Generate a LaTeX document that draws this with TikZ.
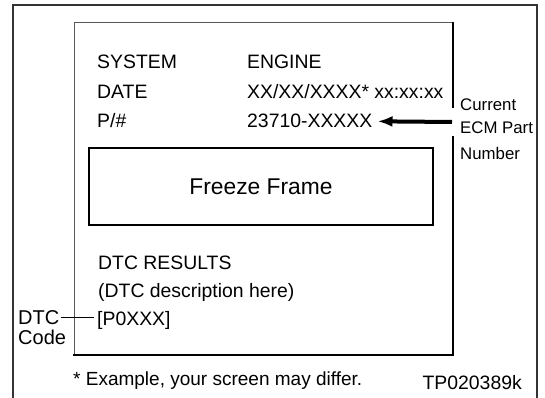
\documentclass[tikz,border=0pt]{standalone}
\usepackage{fontspec}
\setmainfont{Liberation Sans}
\usetikzlibrary{arrows.meta}
\begin{document}
\begin{tikzpicture}[x=1pt,y=-1pt,
  txt/.style={inner sep=0pt,anchor=base west,font=\fontsize{19.4}{22}\selectfont},
  side/.style={inner sep=0pt,anchor=base west,font=\fontsize{16.8}{19}\selectfont},
  dlab/.style={inner sep=0pt,anchor=base west,font=\fontsize{20}{22}\selectfont},
  frame/.style={line width=1.3pt,draw=black!80},
  thin/.style={line width=0.8pt,draw=black!65},
  thick/.style={line width=1.8pt,draw=black}]
\useasboundingbox (0,0) rectangle (545,398);
% outer frame
\draw[frame] (13,398) |- (537,5) -- (537,398);
% screen
\draw[thin] (74,355) |- (453,22);
\draw[thick] (453,22) -- (453,108);
\draw[thick] (453,136) -- (453,355) -- (73,355);
% rows
\node[txt] (sys) at (97,69) {SYSTEM};
\node[txt] (date) at (97,99) {DATE};
\node[txt] (pn) at (97,128) {P/\#};
\node[txt] (eng) at (247,69) {ENGINE};
\node[txt] (dt) at (247,99) {XX/XX/XXXX* xx:xx:xx};
\node[txt] (num) at (247,128) {23710-XXXXX};
% freeze frame
\node[draw,thick,minimum width=344pt,minimum height=77pt,inner sep=0pt,
  font=\fontsize{22.8}{26}\selectfont] (ff) at (261,186.5) {Freeze Frame};
% DTC results
\node[txt] (res) at (98,269) {DTC RESULTS};
\node[txt] (desc) at (98,297) {(DTC description here)};
\node[txt] (code) at (97,325) {[P0XXX]};
% side labels
\node[dlab] (dtc) at (18,324) {DTC};
\node[dlab] (cd) at (18,344) {Code};
\draw[line width=0.8pt] (dtc.east) ++(1,0) -- ([xshift=-3pt]dtc.east -| code.west);
\node[side] (cur) at (460,111) {Current};
\node[side] (ecm) at (460,134) {ECM Part};
\node[side] (nbr) at (460,159) {Number};
\coordinate (tail) at (452,122);
\draw[line width=4pt,-{Latex[length=15pt,width=11pt]}] (tail) -- ([xshift=5pt]num.east);
% footer
\node[txt,font=\fontsize{19}{22}\selectfont] (foot) at (73,385) {* Example, your screen may differ.};
\node[txt,anchor=base east] (tp) at (522,389) {TP020389k};
\end{tikzpicture}
\end{document}
